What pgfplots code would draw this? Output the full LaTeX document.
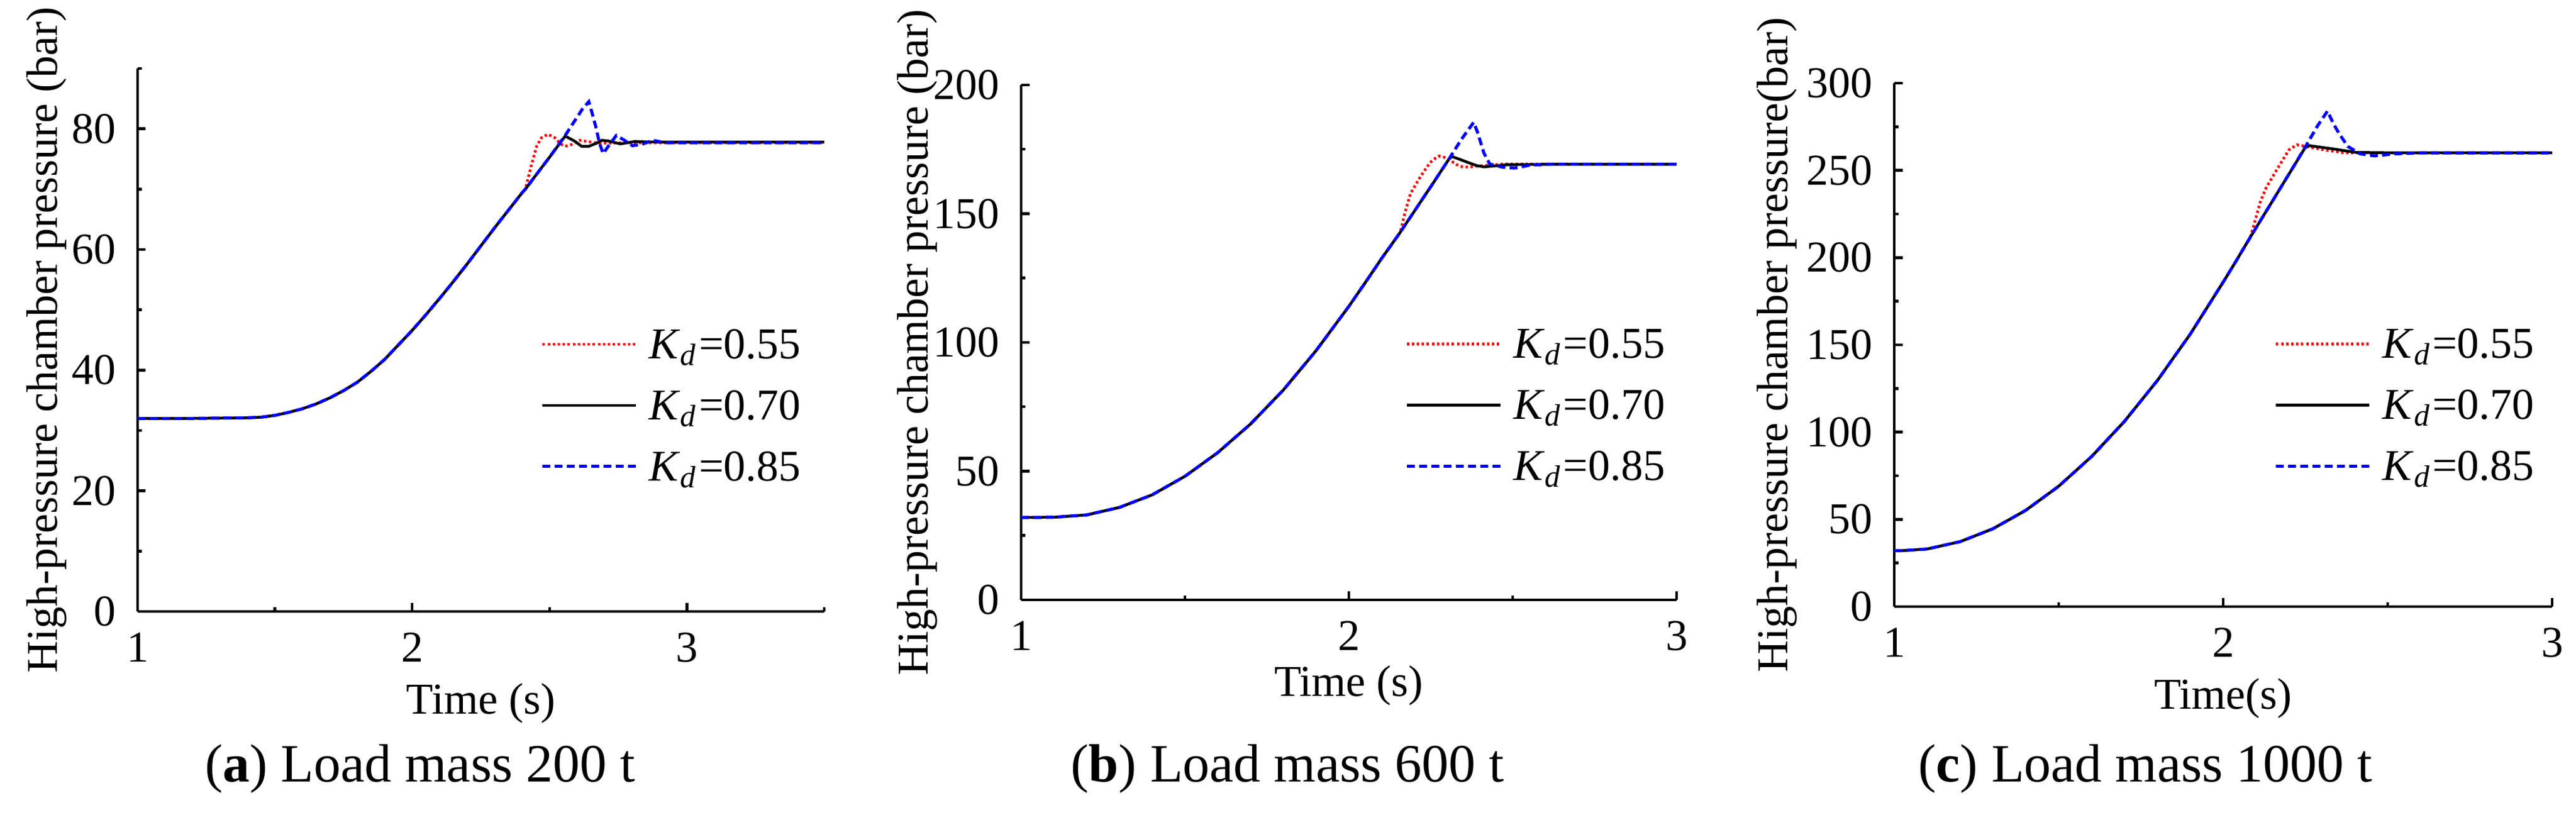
\documentclass[border=0pt]{standalone}
\usepackage{fontspec}
\setmainfont{Liberation Serif}
\usepackage{pgfplots}
\pgfplotsset{compat=1.18}
\definecolor{myred}{RGB}{255,0,0}
\definecolor{myblue}{RGB}{0,0,255}
\pgfplotsset{
  myaxis/.style={
    scale only axis, anchor=south west,
    axis lines=left, axis line style={-, line width=0.45pt, black},
    tick align=inside, major tick length=1.35pt, minor tick length=0.7pt,
    every tick/.style={black, line width=0.45pt},
    /pgf/number format/assume math mode=true,
    tick label style={font=\fontsize{7.2}{8}\selectfont},
    label style={font=\fontsize{7.2}{8}\selectfont},
    xtick={1,2,3}, xmin=1, ymin=0,
    xlabel style={at={(axis description cs:0.5,0)}, anchor=base, yshift=-16.8pt},
    legend cell align=left,
    legend image code/.code={\draw[##1] (0pt,0pt) -- (15.3pt,0pt);},
    legend style={draw=none, fill=none, inner sep=0pt, outer sep=0pt, row sep=4.9pt,
      anchor=north west,
      nodes={inner sep=0pt, outer sep=0pt, text height=4.9pt, text depth=0.2pt, font=\fontsize{7.2}{8}\selectfont},
      /tikz/every odd column/.append style={column sep=1.9pt}},
  },
  sred/.style={myred, line width=0.45pt, dash pattern=on 0.4pt off 0.42pt},
  sblack/.style={black, line width=0.45pt},
  sblue/.style={myblue, line width=0.5pt, dash pattern=on 1.3pt off 0.7pt},
}
\begin{document}
\begin{tikzpicture}[x=1pt,y=1pt]
\path[use as bounding box] (0,0) rectangle (421.3,134.1);

% ---------- (a) ----------
\begin{axis}[myaxis, at={(22.5pt,34.1pt)}, width=112.3pt, height=88.8pt,
  xmax=3.5, ymax=90, ytick={0,20,40,60,80}, minor ytick={10,30,50,70,90},
  minor xtick={1.5,2.5,3.5},
  xlabel={Time (s)}, ylabel={High-pressure chamber pressure (bar)},
  ylabel style={at={(axis description cs:-0.1175,0.5)}, anchor=base},
  legend style={at={(axis cs:2.469,46.9)}}]
\addplot[sred] coordinates {(1.0,32.0)(1.2,32.0)(1.4,32.1)(1.45,32.2)(1.5,32.5)(1.55,33.0)(1.6,33.6)(1.65,34.4)(1.7,35.4)(1.75,36.6)(1.8,38.0)(1.85,39.8)(1.9,41.8)(1.95,44.2)(2.0,46.6)(2.05,49.2)(2.1,51.9)(2.15,54.7)(2.2,57.6)(2.25,60.6)(2.3,63.6)(2.35,66.5)(2.4,69.4)(2.412,70.0)
 (2.434,74.0)(2.453,77.1)(2.47,78.5)(2.494,79.1)(2.52,78.5)(2.54,77.5)(2.557,77.1)(2.58,77.4)(2.609,78.1)(2.64,77.9)(2.68,77.6)(2.8,77.7)(3.5,77.7)};
\addlegendentry{\textit{K}\textsubscript{\textit{d}}=0.55}
\addplot[sblack] coordinates {(1.0,32.0)(1.2,32.0)(1.4,32.1)(1.45,32.2)(1.5,32.5)(1.55,33.0)(1.6,33.6)(1.65,34.4)(1.7,35.4)(1.75,36.6)(1.8,38.0)(1.85,39.8)(1.9,41.8)(1.95,44.2)(2.0,46.6)(2.05,49.2)(2.1,51.9)(2.15,54.7)(2.2,57.6)(2.25,60.6)(2.3,63.6)(2.35,66.5)(2.4,69.4)(2.412,70.0)
 (2.45,72.3)(2.5,75.3)(2.557,78.8)(2.59,78.0)(2.617,77.1)(2.643,77.1)(2.67,77.6)(2.691,78.1)(2.713,78.0)(2.758,77.5)(2.81,77.9)(2.9,77.8)(3.5,77.8)};
\addlegendentry{\textit{K}\textsubscript{\textit{d}}=0.70}
\addplot[sblue] coordinates {(1.0,32.0)(1.2,32.0)(1.4,32.1)(1.45,32.2)(1.5,32.5)(1.55,33.0)(1.6,33.6)(1.65,34.4)(1.7,35.4)(1.75,36.6)(1.8,38.0)(1.85,39.8)(1.9,41.8)(1.95,44.2)(2.0,46.6)(2.05,49.2)(2.1,51.9)(2.15,54.7)(2.2,57.6)(2.25,60.6)(2.3,63.6)(2.35,66.5)(2.4,69.4)(2.412,70.0)
 (2.45,72.3)(2.5,75.3)(2.557,78.9)(2.594,81.5)(2.62,83.3)(2.643,84.5)(2.655,82.6)(2.668,80.4)(2.682,77.6)(2.695,75.9)(2.72,77.5)(2.743,78.9)(2.773,78.1)(2.802,77.2)(2.84,77.5)(2.877,78.1)(2.92,77.7)(3.5,77.7)};
\addlegendentry{\textit{K}\textsubscript{\textit{d}}=0.85}
\end{axis}

% ---------- (b) ----------
\begin{axis}[myaxis, at={(167.0pt,36.0pt)}, width=107.2pt, height=84.2pt,
  xmax=3, ymax=200, ytick={0,50,100,150,200}, minor ytick={25,75,125,175},
  minor xtick={1.5,2.5},
  xlabel={Time (s)}, ylabel={High-pressure chamber pressure (bar)},
  xlabel style={yshift=1pt},
  ylabel style={at={(axis description cs:-0.1427,0.5)}, anchor=base},
  legend style={at={(axis cs:2.172,105.5)}}]
\addplot[sred] coordinates {(1.0,32.0)(1.1,32.1)(1.2,33.0)(1.3,35.9)(1.4,40.8)(1.5,48.0)(1.6,57.2)(1.7,68.3)(1.8,81.5)(1.9,96.8)(2.0,114.0)(2.05,123.2)(2.1,132.6)(2.157,142.8)
 (2.172,150.7)(2.188,157.8)(2.213,163.3)(2.238,168.1)(2.255,170.8)(2.275,172.4)(2.295,171.8)(2.312,170.5)(2.33,169.0)(2.349,168.1)(2.37,168.2)(2.393,168.5)(2.474,169.3)(2.6,169.2)(3.0,169.2)};
\addlegendentry{\textit{K}\textsubscript{\textit{d}}=0.55}
\addplot[sblack] coordinates {(1.0,32.0)(1.1,32.1)(1.2,33.0)(1.3,35.9)(1.4,40.8)(1.5,48.0)(1.6,57.2)(1.7,68.3)(1.8,81.5)(1.9,96.8)(2.0,114.0)(2.05,123.2)(2.1,132.6)(2.157,142.8)
 (2.2,151.0)(2.25,160.5)(2.306,171.3)(2.315,172.2)(2.343,170.9)(2.368,169.7)(2.39,168.7)(2.412,168.2)(2.44,168.5)(2.48,169.0)(2.6,169.2)(3.0,169.2)};
\addlegendentry{\textit{K}\textsubscript{\textit{d}}=0.70}
\addplot[sblue] coordinates {(1.0,32.0)(1.1,32.1)(1.2,33.0)(1.3,35.9)(1.4,40.8)(1.5,48.0)(1.6,57.2)(1.7,68.3)(1.8,81.5)(1.9,96.8)(2.0,114.0)(2.05,123.2)(2.1,132.6)(2.157,142.8)
 (2.2,151.0)(2.25,160.5)(2.306,171.3)(2.343,178.8)(2.381,185.5)(2.393,181.5)(2.412,173.6)(2.43,169.3)(2.468,168.1)(2.505,167.7)(2.555,168.9)(2.62,169.2)(3.0,169.2)};
\addlegendentry{\textit{K}\textsubscript{\textit{d}}=0.85}
\end{axis}

% ---------- (c) ----------
\begin{axis}[myaxis, at={(309.8pt,34.9pt)}, width=107.6pt, height=85.6pt,
  xmax=3, ymax=300, ytick={0,50,100,150,200,250,300}, minor ytick={25,75,125,175,225,275},
  minor xtick={1.5,2.5},
  xlabel={Time(s)}, ylabel={High-pressure chamber pressure(bar)},
  ylabel style={at={(axis description cs:-0.1626,0.5)}, anchor=base},
  legend style={at={(axis cs:2.156,159.5)}}]
\addplot[sred] coordinates {(1.0,32.0)(1.02,32.0)(1.1,33.0)(1.2,37.2)(1.3,44.6)(1.4,55.2)(1.5,69.0)(1.6,86.0)(1.7,106.2)(1.8,129.6)(1.9,156.2)(2.0,186.0)(2.04,198.3)(2.082,211.6)
 (2.094,219.2)(2.113,232.0)(2.131,240.2)(2.162,250.1)(2.2,261.8)(2.224,264.7)(2.255,263.6)(2.305,261.8)(2.367,260.1)(2.5,260.0)(3.0,260.0)};
\addlegendentry{\textit{K}\textsubscript{\textit{d}}=0.55}
\addplot[sblack] coordinates {(1.0,32.0)(1.02,32.0)(1.1,33.0)(1.2,37.2)(1.3,44.6)(1.4,55.2)(1.5,69.0)(1.6,86.0)(1.7,106.2)(1.8,129.6)(1.9,156.2)(2.0,186.0)(2.04,198.3)(2.082,211.6)
 (2.15,232.5)(2.2,247.9)(2.249,263.0)(2.261,264.2)(2.33,262.4)(2.404,260.3)(2.5,260.1)(3.0,260.1)};
\addlegendentry{\textit{K}\textsubscript{\textit{d}}=0.70}
\addplot[sblue] coordinates {(1.0,32.0)(1.02,32.0)(1.1,33.0)(1.2,37.2)(1.3,44.6)(1.4,55.2)(1.5,69.0)(1.6,86.0)(1.7,106.2)(1.8,129.6)(1.9,156.2)(2.0,186.0)(2.04,198.3)(2.082,211.6)
 (2.15,232.5)(2.2,247.9)(2.249,263.2)(2.286,275.3)(2.317,284.0)(2.336,276.4)(2.354,270.6)(2.379,263.7)(2.416,259.5)(2.46,258.3)(2.522,259.5)(2.6,260.0)(3.0,260.0)};
\addlegendentry{\textit{K}\textsubscript{\textit{d}}=0.85}
\end{axis}

% captions
\node[anchor=base, font=\fontsize{8.8}{10}\selectfont] at (68.7,6.2) {(\textbf{a}) Load mass 200 t};
\node[anchor=base, font=\fontsize{8.8}{10}\selectfont] at (210.6,6.2) {(\textbf{b}) Load mass 600 t};
\node[anchor=base, font=\fontsize{8.8}{10}\selectfont] at (350.9,6.2) {(\textbf{c}) Load mass 1000 t};
\end{tikzpicture}
\end{document}
